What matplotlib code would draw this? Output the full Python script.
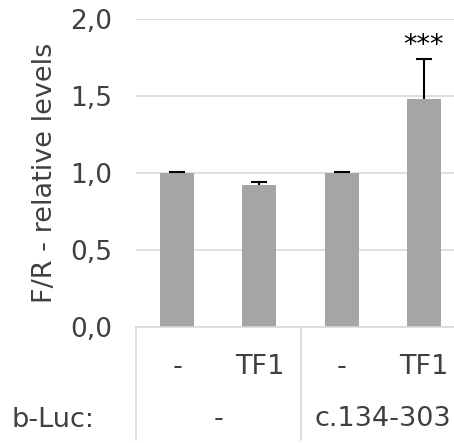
import numpy as np
import matplotlib
matplotlib.use("Agg")
import matplotlib.pyplot as plt
import matplotlib.transforms as mtransforms

# data
tf_labels = ["-", "TF1", "-", "TF1"]
group_labels = ["-", "c.134-303"]
values = [1.0, 0.92, 1.0, 1.48]
errors = [0.005, 0.02, 0.005, 0.26]
signif = ["", "", "", "***"]
yticks = [0.0, 0.5, 1.0, 1.5, 2.0]

plt.rcParams["font.family"] = ["DejaVu Sans"]
fs = 19
txt_col = "#404040"
line_col = "#d9d9d9"

fig = plt.figure(figsize=(4.54, 4.43), dpi=100)
ax = fig.add_axes([136 / 454, 1 - 327 / 443, 329 / 454, 308 / 443])

x = np.arange(len(values))
ax.bar(x, values, width=0.415, color="#a5a5a5", zorder=2)
eb = ax.errorbar(x, values, yerr=[np.zeros(len(errors)), errors], fmt="none",
                 ecolor="black", elinewidth=1.5, capsize=6, capthick=1.5, zorder=3)
eb[1][0].set_visible(False)  # no lower cap

for xi, v, e, s in zip(x, values, errors, signif):
    if s:
        ax.text(xi, v + e + 0.085, s, ha="center", va="center", fontsize=fs + 0.5, color="black")

ax.set_xlim(-0.5, len(values) - 0.5)
ax.set_ylim(0, 2.0)
ax.set_yticks(yticks)
ax.set_yticklabels([f"{t:.1f}".replace(".", ",") for t in yticks], fontsize=fs, color=txt_col)
ax.tick_params(axis="y", length=0, pad=17)
ax.set_xticks([])
ax.yaxis.grid(True, color=line_col, linewidth=1.2, zorder=0)
for sp in ["left", "right", "top"]:
    ax.spines[sp].set_visible(False)
ax.spines["bottom"].set_color(line_col)
ax.spines["bottom"].set_linewidth(1.2)
ax.set_ylabel("F/R - relative levels", fontsize=fs + 0.5, color=txt_col, labelpad=9)

# category table under the axis
trans = mtransforms.blended_transform_factory(ax.transData, ax.transAxes)
for xi, lab in zip(x, tf_labels):
    ax.text(xi, -0.13, lab, transform=trans, ha="center", va="center", fontsize=fs + 0.5, color=txt_col)
for gi, lab in enumerate(group_labels):
    ax.text(2 * gi + 0.5, -0.30, lab, transform=trans, ha="center", va="center", fontsize=fs + 0.5, color=txt_col)
for xv in [-0.5, 1.5, 3.5]:
    ax.plot([xv, xv], [0, -0.367], transform=trans, color=line_col, linewidth=1.2, clip_on=False)

fig.text(11 / 454, 1 - 420 / 443, "b-Luc:", ha="left", va="center", fontsize=fs + 0.5, color=txt_col)

fig.savefig("out.png", dpi=100)
